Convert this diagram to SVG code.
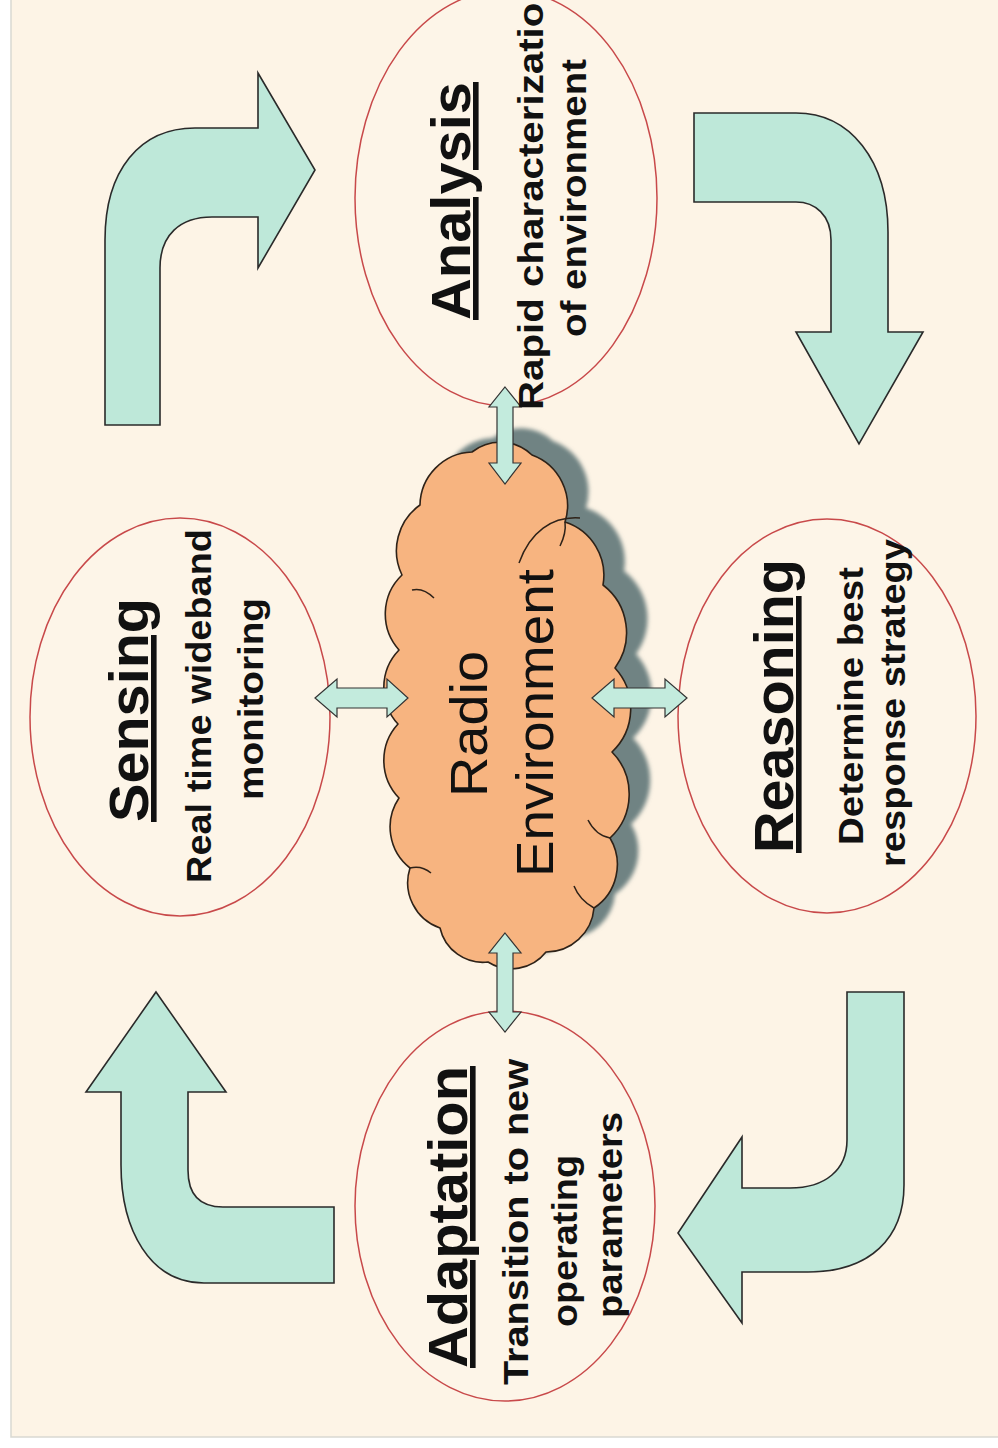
<svg xmlns="http://www.w3.org/2000/svg" width="998" height="1448" viewBox="0 0 998 1448">
<style>
.bg{fill:#FDF4E6;stroke:#D9D9D2;stroke-width:1.5}
.node{fill:#FDF5E8;stroke:#C8494A;stroke-width:1.5}
.big{fill:#BEE8D9;stroke:#2A2A2A;stroke-width:1.6;stroke-linejoin:miter}
.small{fill:#C3EBDD;stroke:#333;stroke-width:1.2}
.cloud{fill:#F7B480;stroke:#2E2218;stroke-width:1.6;stroke-linejoin:round}
.inner{fill:none;stroke:#2E2218;stroke-width:1.5}
.shadow{fill:#6F8383}
.t{font-family:"Liberation Sans",Arial,sans-serif;fill:#111}
.title{font-weight:bold;font-size:56px;text-decoration:underline}
.sub{font-weight:bold;font-size:35px}
.cl{font-size:52px}
</style>
<defs>
<filter id="blur" x="-10%" y="-10%" width="120%" height="120%"><feGaussianBlur stdDeviation="2"/></filter>
<path id="cloudShape" d="M420,505 A54,54 0 0 1 472,452 A46,46 0 0 1 532,455 A54,54 0 0 1 565,522 A56,56 0 0 1 603,585 A60,60 0 0 1 615,668 A60,60 0 0 1 612,752 A60,60 0 0 1 610,838 A52,52 0 0 1 594,908 A48,48 0 0 1 546,952 A44,44 0 0 1 488,962 A44,44 0 0 1 440,928 A48,48 0 0 1 410,868 A52,52 0 0 1 399,798 A54,54 0 0 1 398,724 A54,54 0 0 1 399,650 A54,54 0 0 1 402,575 A56,56 0 0 1 420,505 Z"/>
</defs>
<rect x="0" y="0" width="998" height="1448" fill="#FFFFFF"/>
<rect class="bg" x="11" y="-2" width="990" height="1439"/>

<g id="connectors">
<path class="big" d="M105,425 L105,240 C105,170 140,128 195,128 L258,128 L258,73 L315,170 L258,268 L258,217 L212,217 C180,217 160,235 160,268 L160,425 Z"/>
<path class="big" d="M694,113 L796,113 C850,113 888,160 888,232 L888,332 L923,332 L859,444 L796,332 L831,332 L831,240 C831,215 815,202 796,202 L694,202 Z"/>
<path class="big" d="M156,992 L226,1092 L188,1092 L188,1170 C188,1195 200,1207 223,1207 L334,1207 L334,1283 L204,1283 C150,1283 121,1230 121,1165 L121,1092 L86,1092 Z"/>
<path class="big" d="M847,992 L904,992 L904,1185 C904,1238 870,1272 808,1272 L742,1272 L742,1323 L678,1233 L742,1137 L742,1188 L790,1188 C825,1188 847,1170 847,1140 Z"/>
</g>

<g id="analysis"><ellipse class="node" cx="506" cy="198" rx="151" ry="208"/></g>
<g id="sensing"><ellipse class="node" cx="180" cy="717" rx="150" ry="199"/></g>
<g id="reasoning"><ellipse class="node" cx="827" cy="716" rx="149" ry="197"/></g>
<g id="adaptation"><ellipse class="node" cx="505" cy="1206" rx="150" ry="195"/></g>

<g id="radio-environment">
<use href="#cloudShape" class="shadow" transform="translate(21,-14)" filter="url(#blur)"/>
<use href="#cloudShape" class="cloud"/>
<path class="inner" d="M519,563 C530,532 552,516 580,518"/>
<path class="inner" d="M565,522 C566,530 564,538 560,546"/>
<path class="inner" d="M412,590 C420,588 428,592 434,598"/>
<path class="inner" d="M594,908 C585,903 578,896 574,886"/>
<path class="inner" d="M410,868 C418,866 425,868 431,873"/>
<path class="inner" d="M610,838 C600,836 593,830 588,820"/>
</g>

<g id="double-arrows">
<path class="small" d="M505,387 L521,407 L513,407 L513,463 L521,463 L505,484 L489,463 L497,463 L497,407 L489,407 Z"/>
<path class="small" d="M505,933 L521,953 L513,953 L513,1012 L521,1012 L505,1032 L489,1012 L497,1012 L497,953 L489,953 Z"/>
<path class="small" d="M315,698 L337,679 L337,688 L387,688 L387,679 L408,698 L387,717 L387,708 L337,708 L337,717 Z"/>
<path class="small" d="M592,698 L614,679 L614,688 L665,688 L665,679 L687,698 L665,717 L665,708 L614,708 L614,717 Z"/>
</g>

<g id="labels">
<text class="t title" transform="translate(470,201) rotate(-90)" x="-119" textLength="238" lengthAdjust="spacingAndGlyphs">Analysis</text>
<text class="t sub" transform="translate(543,194) rotate(-90)" x="-216" textLength="432" lengthAdjust="spacingAndGlyphs">Rapid characterization</text>
<text class="t sub" transform="translate(586,198) rotate(-90)" x="-139" textLength="278" lengthAdjust="spacingAndGlyphs">of environment</text>

<text class="t title" transform="translate(148,710) rotate(-90)" x="-112" textLength="224" lengthAdjust="spacingAndGlyphs">Sensing</text>
<text class="t sub" transform="translate(211,706) rotate(-90)" x="-177" textLength="354" lengthAdjust="spacingAndGlyphs">Real time wideband</text>
<text class="t sub" transform="translate(263,699) rotate(-90)" x="-101" textLength="202" lengthAdjust="spacingAndGlyphs">monitoring</text>

<text class="t cl" transform="translate(487,724) rotate(-90)" x="-73" textLength="146" lengthAdjust="spacingAndGlyphs">Radio</text>
<text class="t cl" transform="translate(553,723) rotate(-90)" x="-154" textLength="308" lengthAdjust="spacingAndGlyphs">Environment</text>

<text class="t title" transform="translate(793,706) rotate(-90)" x="-147" textLength="294" lengthAdjust="spacingAndGlyphs">Reasoning</text>
<text class="t sub" transform="translate(863,706) rotate(-90)" x="-139" textLength="278" lengthAdjust="spacingAndGlyphs">Determine best</text>
<text class="t sub" transform="translate(905,703) rotate(-90)" x="-164" textLength="328" lengthAdjust="spacingAndGlyphs">response strategy</text>

<text class="t title" transform="translate(467,1217) rotate(-90)" x="-151" textLength="302" lengthAdjust="spacingAndGlyphs">Adaptation</text>
<text class="t sub" transform="translate(528,1222) rotate(-90)" x="-163" textLength="326" lengthAdjust="spacingAndGlyphs">Transition to new</text>
<text class="t sub" transform="translate(577,1241) rotate(-90)" x="-86" textLength="172" lengthAdjust="spacingAndGlyphs">operating</text>
<text class="t sub" transform="translate(622,1215) rotate(-90)" x="-103" textLength="206" lengthAdjust="spacingAndGlyphs">parameters</text>
</g>
</svg>
